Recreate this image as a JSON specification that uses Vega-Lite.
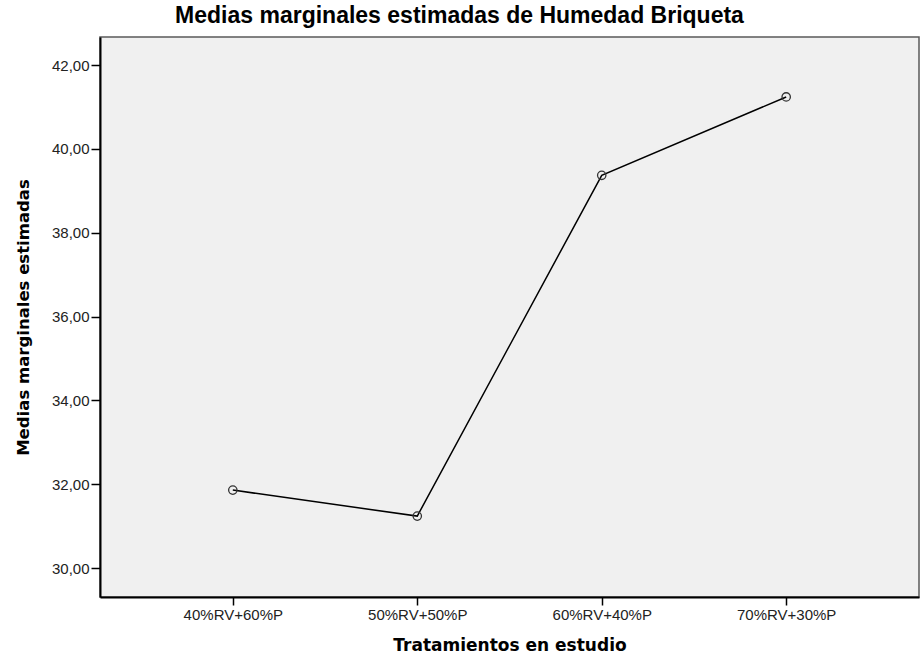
{
  "$schema": "https://vega.github.io/schema/vega-lite/v6.json",
  "autosize": {"type": "none"},
  "padding": {"left": 100, "top": 37, "right": 1, "bottom": 65},
  "width": 819,
  "height": 560,
  "background": "white",
  "config": {
    "locale": {"number": {"decimal": ",", "thousands": ".", "grouping": [3], "currency": ["", " €"]}},
    "view": {"fill": "#f0f0f0", "stroke": "#5a5a5a", "strokeWidth": 1.5},
    "axis": {"grid": false}
  },
  "title": {
    "text": "Medias marginales estimadas de Humedad Briqueta",
    "font": "Liberation Sans",
    "fontSize": 23,
    "fontWeight": "bold",
    "color": "#000000",
    "anchor": "middle",
    "dx": -50,
    "offset": 9
  },
  "data": {
    "values": [
      {"tratamiento": "40%RV+60%P", "media": 31.86},
      {"tratamiento": "50%RV+50%P", "media": 31.24},
      {"tratamiento": "60%RV+40%P", "media": 39.37},
      {"tratamiento": "70%RV+30%P", "media": 41.24}
    ]
  },
  "encoding": {
    "x": {
      "field": "tratamiento",
      "type": "ordinal",
      "sort": null,
      "scale": {"type": "point", "padding": 0.72},
      "axis": {
        "title": "Tratamientos en estudio",
        "titleFont": "DejaVu Sans",
        "titleFontSize": 17,
        "titleFontWeight": "bold",
        "titleColor": "#000000",
        "titlePadding": 15,
        "labelFont": "Liberation Sans",
        "labelFontSize": 15,
        "labelColor": "#222222",
        "labelAngle": 0,
        "labelPadding": 2,
        "tickSize": 8,
        "tickColor": "#000000",
        "tickWidth": 1.5,
        "domainColor": "#000000",
        "domainWidth": 2
      }
    },
    "y": {
      "field": "media",
      "type": "quantitative",
      "scale": {"domain": [29.31, 42.67], "nice": false, "zero": false},
      "axis": {
        "title": "Medias marginales estimadas",
        "titleFont": "DejaVu Sans",
        "titleFontSize": 16.5,
        "titleFontWeight": "bold",
        "titleColor": "#000000",
        "titlePadding": 20,
        "values": [30, 32, 34, 36, 38, 40, 42],
        "format": ".2f",
        "labelFont": "Liberation Sans",
        "labelFontSize": 15,
        "labelColor": "#222222",
        "labelPadding": 2,
        "tickSize": 9,
        "tickColor": "#000000",
        "tickWidth": 1.5,
        "domainColor": "#000000",
        "domainWidth": 2
      }
    }
  },
  "layer": [
    {"mark": {"type": "line", "color": "#000000", "strokeWidth": 1.5}},
    {"mark": {"type": "point", "shape": "circle", "filled": false, "size": 70, "stroke": "#333333", "strokeWidth": 1.3, "opacity": 1}}
  ]
}
